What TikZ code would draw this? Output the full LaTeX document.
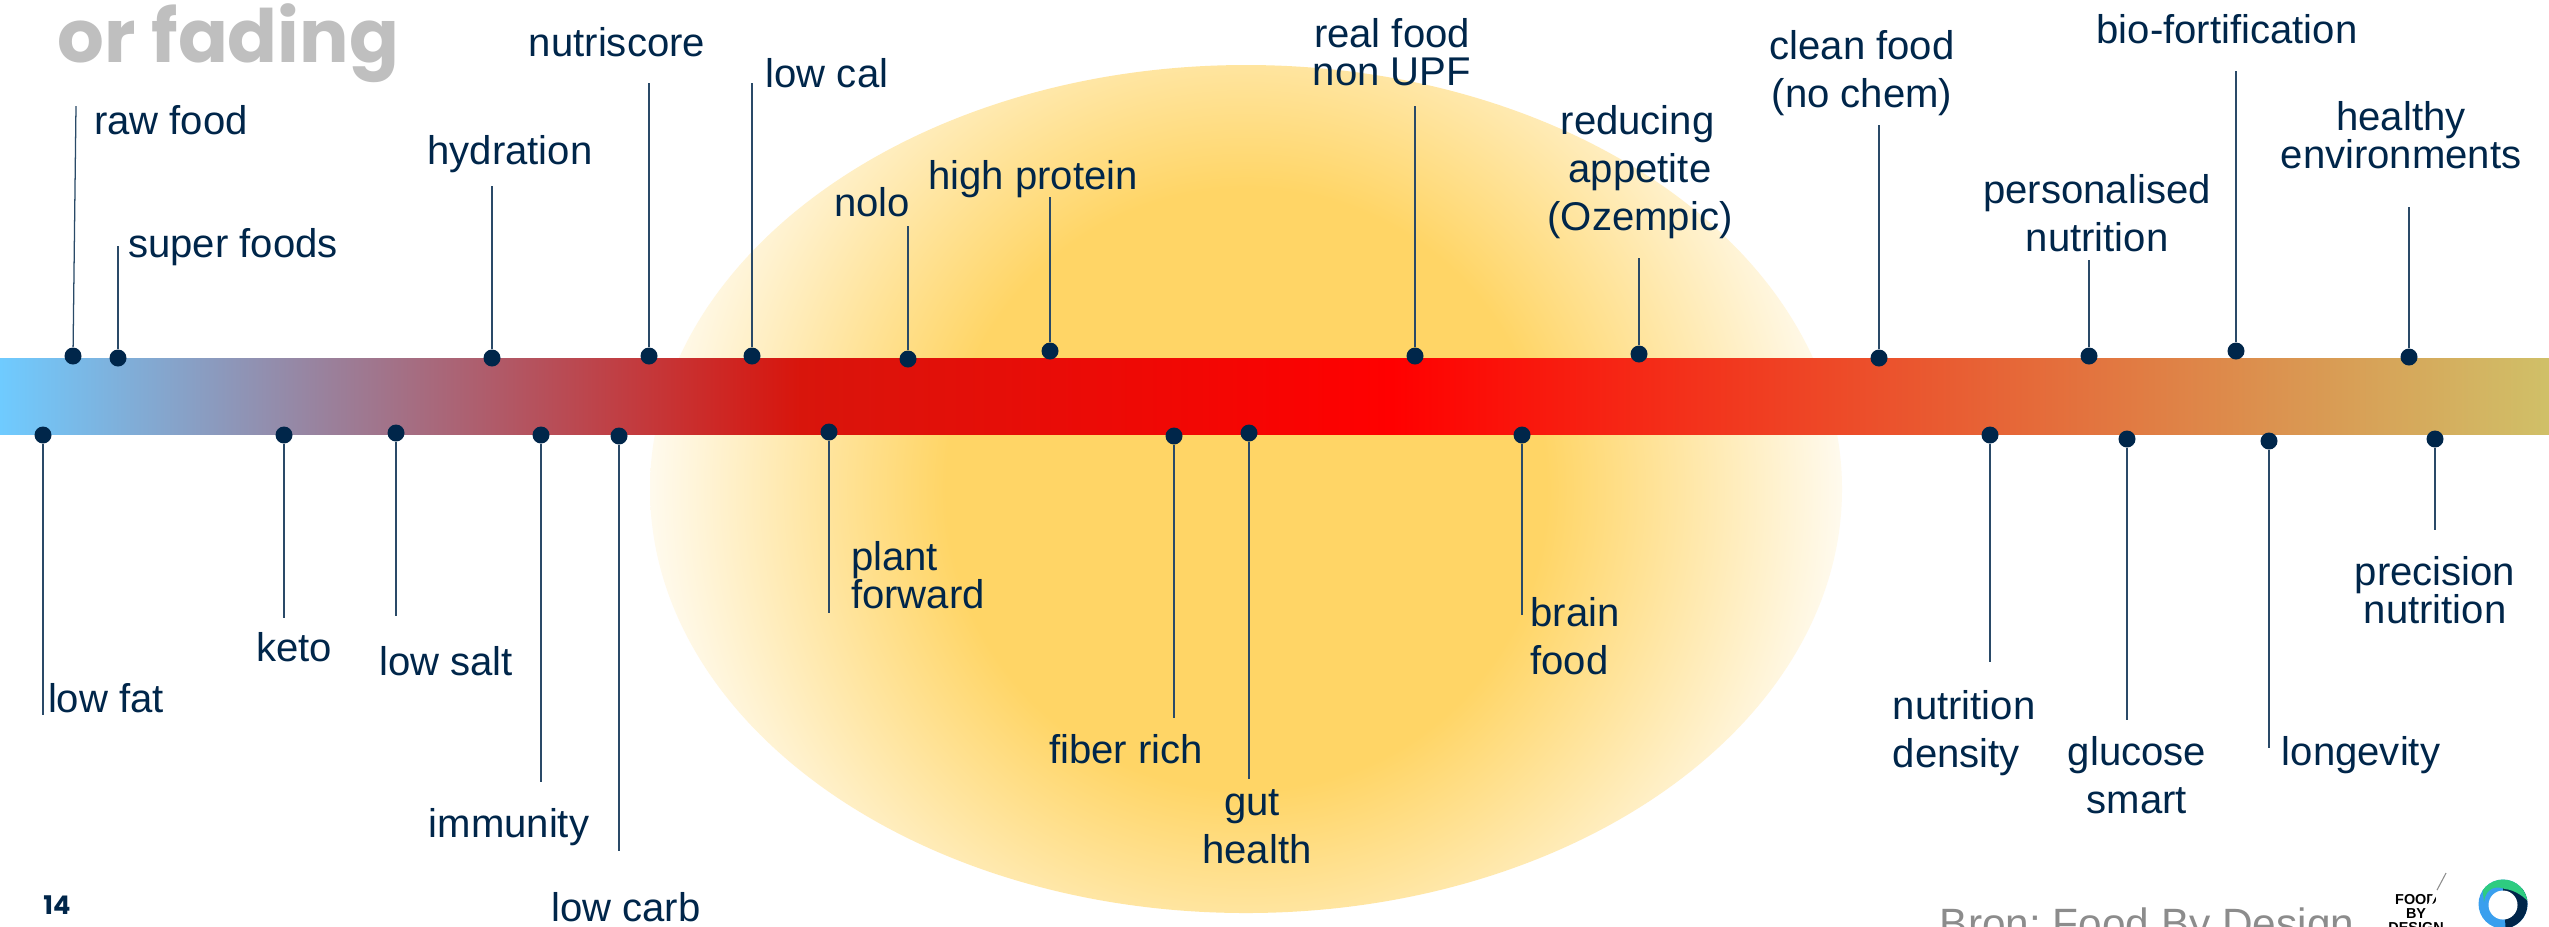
\documentclass[tikz,border=0pt]{standalone}
\usepackage{fontspec}
\setmainfont{Liberation Sans}
\newfontfamily\titlefont{Poppins}
\frenchspacing
\definecolor{navy}{HTML}{00264A}
\definecolor{leadercol}{HTML}{2A4A68}
\definecolor{fadegray}{HTML}{BFBFBF}
\definecolor{srcgray}{HTML}{8C8C8C}
\definecolor{logogreen}{HTML}{2ECC80}
\definecolor{logoblue}{HTML}{3A9FEE}
\definecolor{glowcore}{HTML}{FFD566}
\definecolor{glowedge}{HTML}{FFFCF4}
\definecolor{barblue}{HTML}{6FCBFF}
\definecolor{bardark}{HTML}{D8150C}
\definecolor{barred}{HTML}{FF0000}
\definecolor{barolive}{HTML}{D0C068}
\pgfdeclarehorizontalshading{barshade}{100bp}{color(0bp)=(barblue); color(25bp)=(barblue); color(40.7bp)=(bardark); color(52.3bp)=(barred); color(75bp)=(barolive); color(100bp)=(barolive)}
\pgfdeclareradialshading{glowshade}{\pgfpoint{0bp}{0bp}}{color(0bp)=(glowcore); color(12.3bp)=(glowcore); color(25bp)=(glowedge); color(50bp)=(glowedge)}
\tikzset{
  tagtext/.style={navy,inner sep=0pt,align=center,font=\fontsize{11.4}{13.7}\selectfont},
  tagtight/.style={tagtext,font=\fontsize{11.4}{10.8}\selectfont},
  pin/.style={circle,fill=navy,inner sep=0pt,minimum size=17*0.01cm},
  leader/.style={leadercol,line width=0.36pt}
}
\begin{document}
\begin{tikzpicture}[x=0.01cm,y=-0.01cm]
  \useasboundingbox[fill=white] (0,0) rectangle (2549,926);
  % glow behind the bar
  \begin{scope}
    \clip (1246,489) ellipse [x radius=596,y radius=424];
    \shade[shading=glowshade] (1246,489) circle [radius=610];
  \end{scope}
  % bar
  \shade[shading=barshade] (0,358) rectangle (2549,434);
  % title
  \node[fadegray,inner sep=0pt,anchor=base west,font=\titlefont\bfseries\fontsize{20.9}{25}\selectfont] (fading) at (57,62) {or fading};
  % pins above and below the bar
  \foreach \pinname/\dx/\dy/\ex/\ey in {rawfood/73/356/76/106,superfoods/118/358/118/246,hydration/492/358/492/186,
    nutriscore/649/356/649/83,lowcal/752/356/752/83,nolo/908/359/908/226,highprotein/1050/351/1050/197,
    realfood/1415/356/1415/106,reducing/1639/354/1639/258,cleanfood/1879/358/1879/125,personalised/2089/356/2089/260,
    biofort/2236/351/2236/71,healthy/2409/357/2409/207,
    lowfat/43/435/43/715,keto/284/435/284/618,lowsalt/396/433/396/616,immunity/541/435/541/782,lowcarb/619/436/619/851,
    plant/829/432/829/613,fiber/1174/436/1174/718,gut/1249/433/1249/779,brain/1522/435/1522/615,
    density/1990/435/1990/662,glucose/2127/439/2127/720,longevity/2269/441/2269/748,precision/2435/439/2435/530}{
    \node[pin] (\pinname) at (\dx,\dy) {};
    \coordinate (\pinname-end) at (\ex,\ey);
    \draw[leader] (\pinname) -- (\pinname-end);
  }
  % labels above
  \node[tagtext] (rawfoodtxt) at (171,120) {raw food};
  \node[tagtext] (superfoodstxt) at (233,247) {super foods};
  \node[tagtext] (hydrationtxt) at (510,154) {hydration};
  \node[tagtext] (nutriscoretxt) at (617,42) {nutriscore};
  \node[tagtext] (lowcaltxt) at (827,73) {low cal};
  \node[tagtext] (nolotxt) at (872,202) {nolo};
  \node[tagtext] (highproteintxt) at (1033,179) {high protein};
  \node[tagtight] (realfoodtxt) at (1392,52) {real food\\non UPF};
  \node[tagtext] (reducingtxt) at (1640,172) {reducing\hspace*{1.4pt}\\appetite\\(Ozempic)};
  \node[tagtext] (cleanfoodtxt) at (1862,73) {clean food\\(no chem)};
  \node[tagtext] (bioforttxt) at (2227,29) {bio-fortification};
  \node[tagtext] (personalisedtxt) at (2097,213) {personalised\\nutrition};
  \node[tagtight] (healthytxt) at (2401,135) {healthy\\environments};
  % labels below
  \node[tagtext] (lowfattxt) at (106,698) {low fat};
  \node[tagtext] (ketotxt) at (294,647) {keto};
  \node[tagtext] (lowsalttxt) at (446,661) {low salt};
  \node[tagtext] (immunitytxt) at (509,827) {immunity};
  \node[tagtext] (lowcarbtxt) at (626,907) {low carb};
  \node[tagtight,align=left] (planttxt) at (918,575) {plant\\forward};
  \node[tagtext] (fibertxt) at (1126,749) {fiber rich};
  \node[tagtext] (guttxt) at (1257,827) {gut\hspace*{2.8pt}\\health};
  \node[tagtext,align=left] (braintxt) at (1575,636) {brain\\food};
  \node[tagtext,align=left] (densitytxt) at (1964,733) {nutrition\\density};
  \node[tagtext] (glucosetxt) at (2137,775) {glucose\\smart};
  \node[tagtext] (longevitytxt) at (2361,755) {longevity};
  \node[tagtight] (precisiontxt) at (2435,590) {precision\\nutrition};
  % footer
  \node[navy,inner sep=0pt,font=\titlefont\bfseries\fontsize{7.3}{9}\selectfont] (pageno) at (57,905) {14};
  \node[srcgray,inner sep=0pt,anchor=base west,font=\fontsize{12.05}{14}\selectfont] (source) at (1939,938) {Bron: Food By Design};
  % logo
  \node[black,inner sep=0pt,anchor=north,align=center,font=\bfseries\fontsize{4.1}{3.9}\selectfont] (logotxt) at (2416,894) {FOOD\\BY\\DESIGN};
  \draw[white,line width=1pt] (2437,890) -- (2428,908);
  \draw[srcgray,line width=0.3pt] (2446,873) -- (2437,890);
  \begin{scope}
    \clip (2503,904) circle [radius=24.5];
    \fill[logoblue] (2470,870) rectangle (2535,935);
    \fill[navy] (2503,888) -- (2535,888) -- (2535,935) -- (2506,935) -- cycle;
    \fill[logogreen] (2484,902) .. controls (2486,886) and (2498,886) .. (2505,889) .. controls (2515,890) and (2525,897) .. (2530,904) -- (2530,870) -- (2480,870) -- cycle;
  \end{scope}
  \fill[white] (2503,905) circle [radius=14.5];
\end{tikzpicture}
\end{document}
